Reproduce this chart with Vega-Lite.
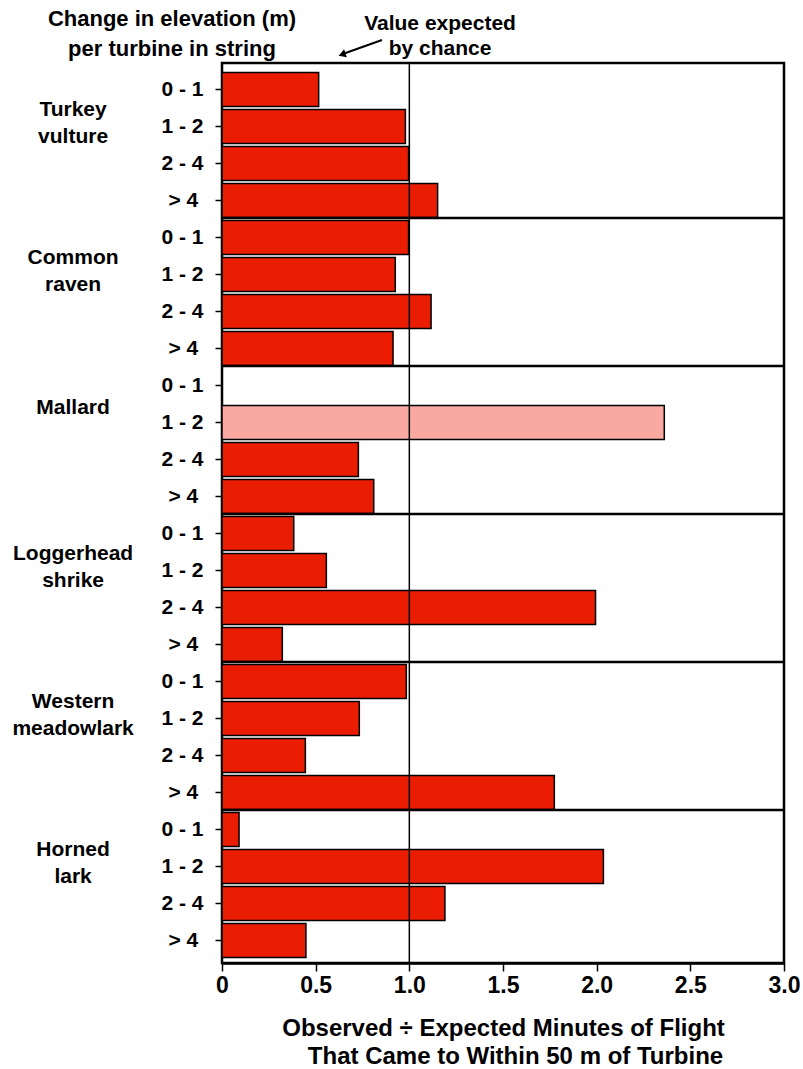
{
  "$schema": "https://vega.github.io/schema/vega-lite/v6.json",
  "autosize": {"type": "none"},
  "padding": {"left": 222, "top": 63, "right": 19, "bottom": 106},
  "width": 562,
  "height": 900,
  "background": "white",
  "config": {
    "font": "Liberation Sans",
    "view": {"stroke": "black", "strokeWidth": 2.5},
    "text": {"font": "Liberation Sans", "fontWeight": "bold", "color": "black"}
  },
  "datasets": {
    "bars": [
      {"species": "Turkey vulture", "elev": "0 - 1", "key": "Turkey vulture|0 - 1", "ratio": 0.516, "shade": "dark"},
      {"species": "Turkey vulture", "elev": "1 - 2", "key": "Turkey vulture|1 - 2", "ratio": 0.979, "shade": "dark"},
      {"species": "Turkey vulture", "elev": "2 - 4", "key": "Turkey vulture|2 - 4", "ratio": 0.996, "shade": "dark"},
      {"species": "Turkey vulture", "elev": "> 4", "key": "Turkey vulture|> 4", "ratio": 1.151, "shade": "dark"},
      {"species": "Common raven", "elev": "0 - 1", "key": "Common raven|0 - 1", "ratio": 0.996, "shade": "dark"},
      {"species": "Common raven", "elev": "1 - 2", "key": "Common raven|1 - 2", "ratio": 0.925, "shade": "dark"},
      {"species": "Common raven", "elev": "2 - 4", "key": "Common raven|2 - 4", "ratio": 1.116, "shade": "dark"},
      {"species": "Common raven", "elev": "> 4", "key": "Common raven|> 4", "ratio": 0.913, "shade": "dark"},
      {"species": "Mallard", "elev": "0 - 1", "key": "Mallard|0 - 1", "ratio": 0, "shade": "dark"},
      {"species": "Mallard", "elev": "1 - 2", "key": "Mallard|1 - 2", "ratio": 2.361, "shade": "light"},
      {"species": "Mallard", "elev": "2 - 4", "key": "Mallard|2 - 4", "ratio": 0.728, "shade": "dark"},
      {"species": "Mallard", "elev": "> 4", "key": "Mallard|> 4", "ratio": 0.81, "shade": "dark"},
      {"species": "Loggerhead shrike", "elev": "0 - 1", "key": "Loggerhead shrike|0 - 1", "ratio": 0.383, "shade": "dark"},
      {"species": "Loggerhead shrike", "elev": "1 - 2", "key": "Loggerhead shrike|1 - 2", "ratio": 0.557, "shade": "dark"},
      {"species": "Loggerhead shrike", "elev": "2 - 4", "key": "Loggerhead shrike|2 - 4", "ratio": 1.994, "shade": "dark"},
      {"species": "Loggerhead shrike", "elev": "> 4", "key": "Loggerhead shrike|> 4", "ratio": 0.322, "shade": "dark"},
      {"species": "Western meadowlark", "elev": "0 - 1", "key": "Western meadowlark|0 - 1", "ratio": 0.984, "shade": "dark"},
      {"species": "Western meadowlark", "elev": "1 - 2", "key": "Western meadowlark|1 - 2", "ratio": 0.733, "shade": "dark"},
      {"species": "Western meadowlark", "elev": "2 - 4", "key": "Western meadowlark|2 - 4", "ratio": 0.445, "shade": "dark"},
      {"species": "Western meadowlark", "elev": "> 4", "key": "Western meadowlark|> 4", "ratio": 1.774, "shade": "dark"},
      {"species": "Horned lark", "elev": "0 - 1", "key": "Horned lark|0 - 1", "ratio": 0.091, "shade": "dark"},
      {"species": "Horned lark", "elev": "1 - 2", "key": "Horned lark|1 - 2", "ratio": 2.036, "shade": "dark"},
      {"species": "Horned lark", "elev": "2 - 4", "key": "Horned lark|2 - 4", "ratio": 1.19, "shade": "dark"},
      {"species": "Horned lark", "elev": "> 4", "key": "Horned lark|> 4", "ratio": 0.448, "shade": "dark"}
    ],
    "labels": [
      {"species": "Turkey vulture", "key": "Turkey vulture|1 - 2", "lines": ["Turkey", "vulture"]},
      {"species": "Common raven", "key": "Common raven|1 - 2", "lines": ["Common", "raven"]},
      {"species": "Mallard", "key": "Mallard|1 - 2", "lines": ["Mallard"]},
      {"species": "Loggerhead shrike", "key": "Loggerhead shrike|1 - 2", "lines": ["Loggerhead", "shrike"]},
      {"species": "Western meadowlark", "key": "Western meadowlark|1 - 2", "lines": ["Western", "meadowlark"]},
      {"species": "Horned lark", "key": "Horned lark|1 - 2", "lines": ["Horned", "lark"]}
    ],
    "note": [{"lines": ["Value expected", "by chance"]}],
    "heading": [{"lines": ["Change in elevation (m)", "per turbine in string"]}],
    "chance": [{"ratio": 1}]
  },
  "encoding": {
    "y": {
      "field": "key",
      "type": "ordinal",
      "sort": null,
      "scale": {
        "domain": [
          "Turkey vulture|0 - 1", "Turkey vulture|1 - 2", "Turkey vulture|2 - 4", "Turkey vulture|> 4",
          "Common raven|0 - 1", "Common raven|1 - 2", "Common raven|2 - 4", "Common raven|> 4",
          "Mallard|0 - 1", "Mallard|1 - 2", "Mallard|2 - 4", "Mallard|> 4",
          "Loggerhead shrike|0 - 1", "Loggerhead shrike|1 - 2", "Loggerhead shrike|2 - 4", "Loggerhead shrike|> 4",
          "Western meadowlark|0 - 1", "Western meadowlark|1 - 2", "Western meadowlark|2 - 4", "Western meadowlark|> 4",
          "Horned lark|0 - 1", "Horned lark|1 - 2", "Horned lark|2 - 4", "Horned lark|> 4"
        ],
        "range": [8, 896],
        "paddingInner": 0.08,
        "paddingOuter": 0.04
      },
      "axis": {
        "title": null,
        "domain": false,
        "ticks": true,
        "tickSize": 7,
        "tickWidth": 1.5,
        "tickColor": "black",
        "labelPadding": 12,
        "labelFont": "Liberation Sans",
        "labelFontWeight": "bold",
        "labelFontSize": 21,
        "labelColor": "black",
        "labelExpr": "split(datum.value, '|')[1] == '> 4' ? '> 4\u2005\u200d' : split(datum.value, '|')[1]"
      }
    }
  },
  "layer": [
    {
      "data": {"name": "bars"},
      "mark": {"type": "bar", "stroke": "black", "strokeWidth": 1.5},
      "encoding": {
        "x": {
          "field": "ratio",
          "type": "quantitative",
          "scale": {"domain": [0, 3], "nice": false, "zero": true},
          "axis": {
            "values": [0, 0.5, 1, 1.5, 2, 2.5, 3],
            "labelExpr": "datum.value == 0 ? '0' : format(datum.value, '.1f')",
            "grid": false,
            "domainColor": "black",
            "domainWidth": 2.5,
            "tickColor": "black",
            "tickWidth": 1.5,
            "tickSize": 8,
            "labelPadding": 3,
            "labelFont": "Liberation Sans",
            "labelFontWeight": "bold",
            "labelFontSize": 23,
            "labelColor": "black",
            "labelFlush": false,
            "title": ["Observed ÷ Expected Minutes of Flight", "\u200d\u2005\u2005\u2005\u2005That Came to Within 50 m of Turbine"],
            "titleFont": "Liberation Sans",
            "titleFontWeight": "bold",
            "titleFontSize": 24,
            "titleLineHeight": 28,
            "titleColor": "black",
            "titlePadding": 19
          }
        },
        "color": {
          "field": "shade",
          "type": "nominal",
          "scale": {"domain": ["dark", "light"], "range": ["#EA1C02", "#FAA9A0"]},
          "legend": null
        }
      }
    },
    {
      "data": {"name": "chance"},
      "mark": {"type": "rule", "color": "black", "strokeWidth": 1.5},
      "encoding": {"x": {"field": "ratio", "type": "quantitative"}, "y": null}
    },
    {
      "data": {"name": "bars"},
      "transform": [{"filter": "datum.elev == '0 - 1' && datum.species != 'Turkey vulture'"}],
      "mark": {"type": "rule", "color": "black", "strokeWidth": 2.5, "yOffset": -2.5},
      "encoding": {"y": {"field": "key", "type": "ordinal", "bandPosition": 0}}
    },
    {
      "data": {"name": "labels"},
      "transform": [{"filter": "datum.species != 'Mallard'"}],
      "mark": {"type": "text", "fontSize": 21, "lineHeight": 27, "align": "center", "baseline": "middle", "dy": -17},
      "encoding": {
        "x": {"datum": -0.795, "type": "quantitative"},
        "text": {"field": "lines"}
      }
    },
    {
      "data": {"name": "labels"},
      "transform": [{"filter": "datum.species == 'Mallard'"}],
      "mark": {"type": "text", "fontSize": 21, "lineHeight": 27, "align": "center", "baseline": "middle", "dy": -15},
      "encoding": {
        "x": {"datum": -0.795, "type": "quantitative"},
        "text": {"field": "lines"}
      }
    },
    {
      "data": {"name": "heading"},
      "mark": {"type": "text", "fontSize": 22, "lineHeight": 30, "align": "center", "baseline": "middle", "dy": -71},
      "encoding": {
        "x": {"datum": -0.267, "type": "quantitative"},
        "y": {"datum": "Turkey vulture|0 - 1"},
        "text": {"field": "lines"}
      }
    },
    {
      "data": {"name": "note"},
      "mark": {"type": "text", "fontSize": 21, "lineHeight": 25, "align": "center", "baseline": "middle", "dy": -66},
      "encoding": {
        "x": {"datum": 1.164, "type": "quantitative"},
        "y": {"datum": "Turkey vulture|0 - 1"},
        "text": {"field": "lines"}
      }
    },
    {
      "data": {"name": "note"},
      "mark": {"type": "rule", "color": "black", "strokeWidth": 2, "yOffset": -49.5, "y2Offset": -36},
      "encoding": {
        "x": {"datum": 0.854, "type": "quantitative"},
        "x2": {"datum": 0.652},
        "y": {"datum": "Turkey vulture|0 - 1"},
        "y2": {"datum": "Turkey vulture|0 - 1"}
      }
    },
    {
      "data": {"name": "note"},
      "mark": {"type": "point", "shape": "triangle-up", "filled": true, "color": "black", "opacity": 1, "size": 70, "angle": 251, "yOffset": -35},
      "encoding": {
        "x": {"datum": 0.641, "type": "quantitative"},
        "y": {"datum": "Turkey vulture|0 - 1"}
      }
    }
  ]
}
